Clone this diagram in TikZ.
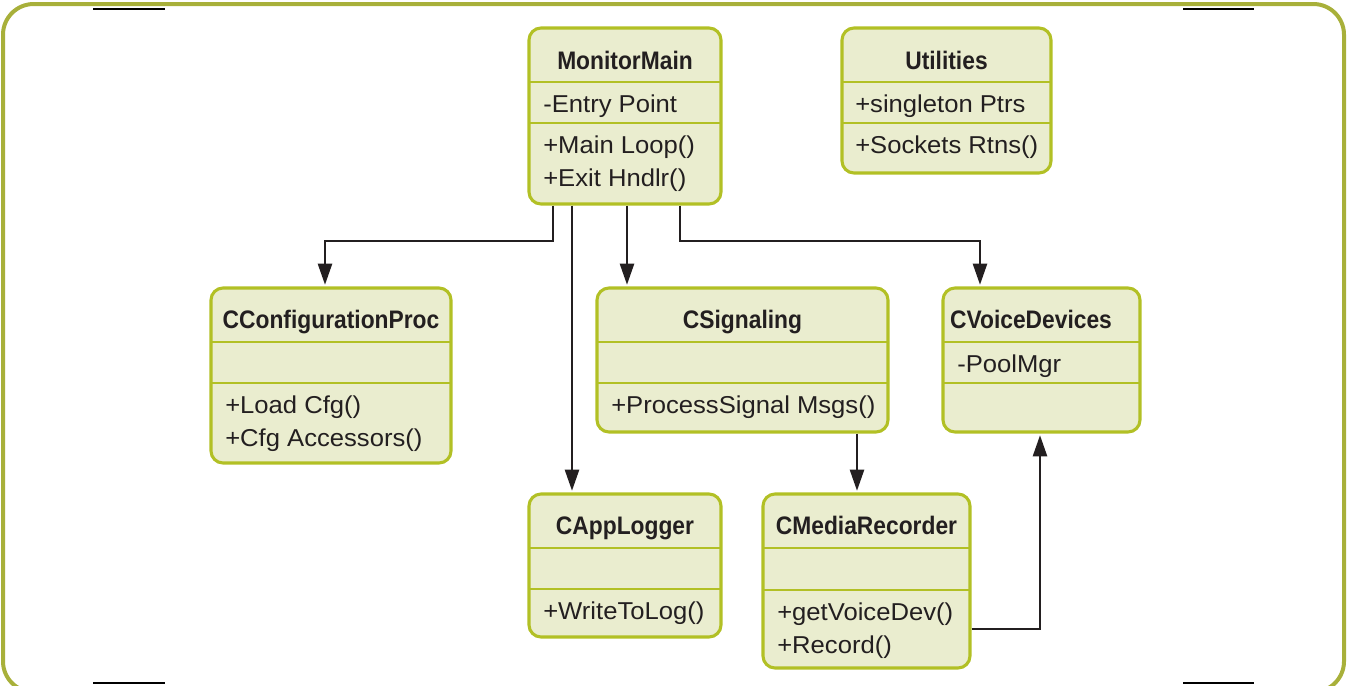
\documentclass[tikz,border=0pt]{standalone}
\usepackage{fontspec}
\setmainfont{Liberation Sans}[FakeStretch=1.05]
\newfontfamily\titlefont{Liberation Sans}[FakeStretch=0.9]
\usetikzlibrary{fit,arrows.meta}

\definecolor{frameolive}{HTML}{A8B03A}
\definecolor{boxedge}{HTML}{B2C025}
\definecolor{boxfill}{HTML}{EAEDCF}
\definecolor{inktext}{HTML}{231F20}

\tikzset{
  umlclass/.style={draw=boxedge, fill=boxfill, line width=2.3pt, rounded corners=9pt,
                   inner sep=0pt, rectangle},
  umlrule/.style={draw=boxedge, line width=1.7pt},
  classname/.style={font=\titlefont\bfseries\fontsize{19}{21}\selectfont, text=inktext,
                    anchor=base, inner sep=0pt},
  member/.style={font=\fontsize{18.3}{20}\selectfont, text=inktext, anchor=base west, inner sep=0pt},
  conn/.style={draw=inktext, line width=2.1pt, -{Triangle[length=16pt,width=10.5pt]},
               shorten >=1.2pt},
  cropmark/.style={draw=black, line width=1.1pt},
  outerframe/.style={draw=frameolive, line width=3pt, rounded corners=23pt}
}

% class box: name, left, top, right, bottom, first rule, second rule
\newcommand\umlbox[7]{%
  \node[umlclass, fit={(#2,#3) (#4,#5)}] (#1) {};
  \draw[umlrule] (#2,#6) -- (#4,#6);
  \draw[umlrule] (#2,#7) -- (#4,#7);
}

\begin{document}
\begin{tikzpicture}[x=0.75pt, y=-0.75pt]
  \useasboundingbox (0,0) rectangle (1347,686);

  % outer frame and crop marks
  \draw[outerframe] (3,4) rectangle (1344,692);
  \draw[cropmark] (93,9) -- (165,9);
  \draw[cropmark] (1183,9) -- (1254,9);
  \draw[cropmark] (93,683) -- (165,683);
  \draw[cropmark] (1183,683) -- (1254,683);

  % classes
  \umlbox{mm}{529}{28}{721}{204}{82}{123}
  \node[classname] (mm-n) at (625,69) {MonitorMain};
  \node[member] (mm-a) at (543,112) {-Entry Point};
  \node[member] (mm-o1) at (543,153) {+Main Loop()};
  \node[member] (mm-o2) at (543,186) {+Exit Hndlr()};

  \umlbox{ut}{842}{28}{1051}{173}{82}{123}
  \node[classname] (ut-n) at (946.5,69) {Utilities};
  \node[member] (ut-a) at (855,112) {+singleton Ptrs};
  \node[member] (ut-o) at (855,153) {+Sockets Rtns()};

  \umlbox{ccp}{211}{288}{451}{463}{342}{383}
  \node[classname] (ccp-n) at (331,328) {CConfigurationProc};
  \node[member] (ccp-o1) at (225,413) {+Load Cfg()};
  \node[member] (ccp-o2) at (225,446) {+Cfg Accessors()};

  \umlbox{sig}{597}{288}{888}{432}{342}{383}
  \node[classname] (sig-n) at (742.5,328) {CSignaling};
  \node[member] (sig-o) at (611,413) {+ProcessSignal Msgs()};

  \umlbox{vd}{943}{288}{1140}{432}{342}{383}
  \node[classname] (vd-n) at (1031,328) {CVoiceDevices};
  \node[member] (vd-a) at (957,372) {-PoolMgr};

  \umlbox{al}{529}{494}{721}{637}{548}{589}
  \node[classname] (al-n) at (625,534) {CAppLogger};
  \node[member] (al-o) at (543,619) {+WriteToLog()};

  \umlbox{mr}{763}{494}{970}{668}{548}{590}
  \node[classname] (mr-n) at (866.5,534) {CMediaRecorder};
  \node[member] (mr-o1) at (777,620) {+getVoiceDev()};
  \node[member] (mr-o2) at (777,653) {+Record()};

  % routing points
  \coordinate (k1) at (553,241);
  \coordinate (k2) at (325,241);
  \coordinate (k3) at (572,241);
  \coordinate (k4) at (627,241);
  \coordinate (k5) at (680,241);
  \coordinate (k6) at (980,241);
  \coordinate (k7) at (857,450);
  \coordinate (k8) at (1040,629);

  % associations
  \draw[conn] (mm.south -| k1) -- (k1) -- (k2) -- (ccp.north -| k2);
  \draw[conn] (mm.south -| k3) -- (al.north -| k3);
  \draw[conn] (mm.south -| k4) -- (sig.north -| k4);
  \draw[conn] (mm.south -| k5) -- (k5) -- (k6) -- (vd.north -| k6);
  \draw[conn] (sig.south -| k7) -- (mr.north -| k7);
  \draw[conn] (mr.east |- k8) -- (k8) -- (vd.south -| k8);
\end{tikzpicture}
\end{document}
